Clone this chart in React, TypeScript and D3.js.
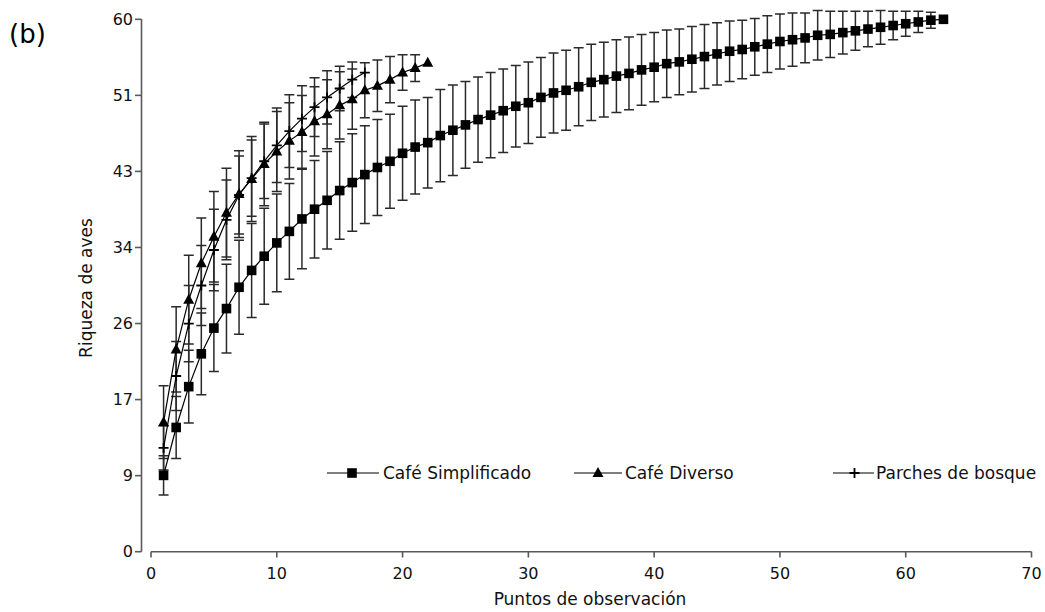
import React from "react";
import * as d3 from "d3";

// ---- Data ----
const simplificadoMean = [
  8.6, 14.0, 18.6, 22.3, 25.2, 27.4, 29.8, 31.7, 33.3, 34.8,
  36.1, 37.5, 38.6, 39.6, 40.7, 41.6, 42.5, 43.3, 44.0, 44.9,
  45.6, 46.1, 46.9, 47.5, 48.1, 48.7, 49.2, 49.7, 50.2, 50.6,
  51.2, 51.7, 52.0, 52.4, 52.9, 53.2, 53.6, 53.9, 54.3, 54.6,
  55.0, 55.2, 55.5, 55.8, 56.1, 56.4, 56.6, 56.9, 57.2, 57.5,
  57.7, 57.9, 58.2, 58.3, 58.5, 58.7, 58.9, 59.1, 59.3, 59.5,
  59.7, 59.9, 60.0,
];
const simplificadoSD = [
  2.2, 3.5, 4.1, 4.6, 4.9, 5.0, 5.3, 5.3, 5.4, 5.5,
  5.4, 5.6, 5.5, 5.5, 5.5, 5.5, 5.5, 5.4, 5.3, 5.3,
  5.3, 5.1, 5.2, 5.1, 4.9, 4.8, 4.8, 4.7, 4.6, 4.6,
  4.5, 4.5, 4.5, 4.4, 4.3, 4.2, 4.1, 4.1, 4.0, 3.9,
  3.8, 3.7, 3.7, 3.6, 3.5, 3.4, 3.3, 3.2, 3.2, 3.1,
  3.0, 2.8, 2.8, 2.6, 2.4, 2.2, 2.0, 1.9, 1.6, 1.4,
  1.2, 0.9, 0,
];
const diversoMean = [
  14.6, 22.8, 28.4, 32.5, 35.5, 38.2, 40.3, 42.0, 43.7, 45.1,
  46.3, 47.3, 48.5, 49.3, 50.3, 51.0, 52.0, 52.5, 53.2, 54.0,
  54.5, 55.1,
];
const diversoSD = [
  4.1, 4.8, 5.0, 5.1, 5.1, 5.0, 4.9, 4.8, 4.7, 4.5,
  4.3, 4.1, 3.9, 3.9, 3.8, 3.4, 3.1, 2.9, 2.6, 2.0,
  1.5, 0,
];
const bosqueMean = [
  11.7, 19.8, 25.7, 30.0, 34.0, 37.4, 40.2, 42.1, 44.0, 45.8,
  47.4, 48.8, 50.1, 51.2, 52.2, 53.2, 54.0,
];
const bosqueSD = [
  2.5, 3.9, 4.3, 4.5, 4.6, 4.5, 4.4, 4.3, 4.2, 4.2,
  4.1, 3.7, 3.3, 3.0, 2.5, 2.0, 0,
];

const xTicks = [0, 10, 20, 30, 40, 50, 60, 70];
const yTickCount = 7;
const yMax = 60;
const legendLabels = ["Café Simplificado", "Café Diverso", "Parches de bosque"];

const FONT = "'DejaVu Sans', Verdana, sans-serif";
const AXIS = "#595959";
const ERR = "#2a2a2a";

type Pt = { x: number; m: number; sd: number };
const toPts = (means: number[], sds: number[]): Pt[] =>
  means.map((m, i) => ({ x: i + 1, m, sd: sds[i] }));

export default function App() {
  const x = d3.scaleLinear().domain([0, 70]).range([151, 1031.5]);
  const y = d3.scaleLinear().domain([0, yMax]).range([551.7, 19.3]);
  const yTicks = d3.range(yTickCount + 1).map((i) => (i * yMax) / yTickCount);

  const line = d3
    .line<Pt>()
    .x((d) => x(d.x))
    .y((d) => y(d.m));

  const series = [
    { pts: toPts(simplificadoMean, simplificadoSD), marker: "square" },
    { pts: toPts(diversoMean, diversoSD), marker: "triangle" },
    { pts: toPts(bosqueMean, bosqueSD), marker: "plus" },
  ];

  const cap = 5;
  const marker = (type: string, cx: number, cy: number, key: string) => {
    if (type === "square")
      return <rect key={key} x={cx - 4.8} y={cy - 4.8} width={9.6} height={9.6} fill="#000" />;
    if (type === "triangle")
      return (
        <path
          key={key}
          d={`M${cx},${cy - 6} L${cx + 5.5},${cy + 4} L${cx - 5.5},${cy + 4} Z`}
          fill="#000"
        />
      );
    return (
      <path
        key={key}
        d={`M${cx - 5},${cy} H${cx + 5} M${cx},${cy - 5} V${cy + 5}`}
        stroke="#000"
        strokeWidth={1.8}
        fill="none"
      />
    );
  };

  const legendItems = [
    { x0: 327, x1: 379, mx: 352, tx: 383, type: "square" },
    { x0: 574, x1: 622, mx: 598, tx: 625, type: "triangle" },
    { x0: 833, x1: 874, mx: 854.5, tx: 876, type: "plus" },
  ];
  const legendY = 473;

  return (
    <svg
      width={1045}
      height={612}
      style={{ position: "absolute", left: 0, top: 0, background: "#fff" }}
      fontFamily={FONT}
    >
      <rect width={1045} height={612} fill="#fff" />
      <text x={9} y={43} fontSize={26} fill="#000">(b)</text>

      {/* Y axis */}
      <line x1={141.5} x2={141.5} y1={y(yMax)} y2={y(0)} stroke={AXIS} strokeWidth={1.6} />
      {yTicks.map((t, i) => (
        <g key={"yt" + i}>
          <line x1={135} x2={141.5} y1={y(t)} y2={y(t)} stroke={AXIS} strokeWidth={1.6} />
          <text x={133} y={y(t)} dy="0.36em" textAnchor="end" fontSize={16} fill="#111">
            {Math.round(t)}
          </text>
        </g>
      ))}

      {/* X axis */}
      <line x1={x(0)} x2={x(70)} y1={551.7} y2={551.7} stroke={AXIS} strokeWidth={1.6} />
      {xTicks.map((t) => (
        <g key={"xt" + t}>
          <line x1={x(t)} x2={x(t)} y1={551.7} y2={557.5} stroke={AXIS} strokeWidth={1.6} />
          <text x={x(t)} y={579} textAnchor="middle" fontSize={16} fill="#111">
            {t}
          </text>
        </g>
      ))}

      <text x={590} y={605} textAnchor="middle" fontSize={17} fill="#111">
        Puntos de observación
      </text>
      <text
        transform="translate(92,288) rotate(-90)"
        textAnchor="middle"
        fontSize={17}
        fill="#111"
      >
        Riqueza de aves
      </text>

      {/* Error bars */}
      {series.map((s, si) =>
        s.pts
          .filter((d) => d.sd > 0)
          .map((d, i) => {
            const cx = x(d.x);
            const yt = y(d.m + d.sd);
            const yb = y(d.m - d.sd);
            return (
              <path
                key={`e${si}-${i}`}
                d={`M${cx},${yt} V${yb} M${cx - cap},${yt} H${cx + cap} M${cx - cap},${yb} H${cx + cap}`}
                stroke={ERR}
                strokeWidth={1.5}
                fill="none"
              />
            );
          })
      )}

      {/* Lines */}
      {series.map((s, si) => (
        <path key={"l" + si} d={line(s.pts) || ""} stroke="#000" strokeWidth={1.2} fill="none" />
      ))}

      {/* Markers */}
      {series.map((s, si) =>
        s.pts.map((d, i) => marker(s.marker, x(d.x), y(d.m), `m${si}-${i}`))
      )}

      {/* Legend */}
      {legendItems.map((l, i) => (
        <g key={"lg" + i}>
          <line x1={l.x0} x2={l.x1} y1={legendY} y2={legendY} stroke="#000" strokeWidth={1.2} />
          {marker(l.type, l.mx, legendY, "lm" + i)}
          <text x={l.tx} y={legendY} dy="0.36em" fontSize={17} fill="#111">
            {legendLabels[i]}
          </text>
        </g>
      ))}
    </svg>
  );
}
